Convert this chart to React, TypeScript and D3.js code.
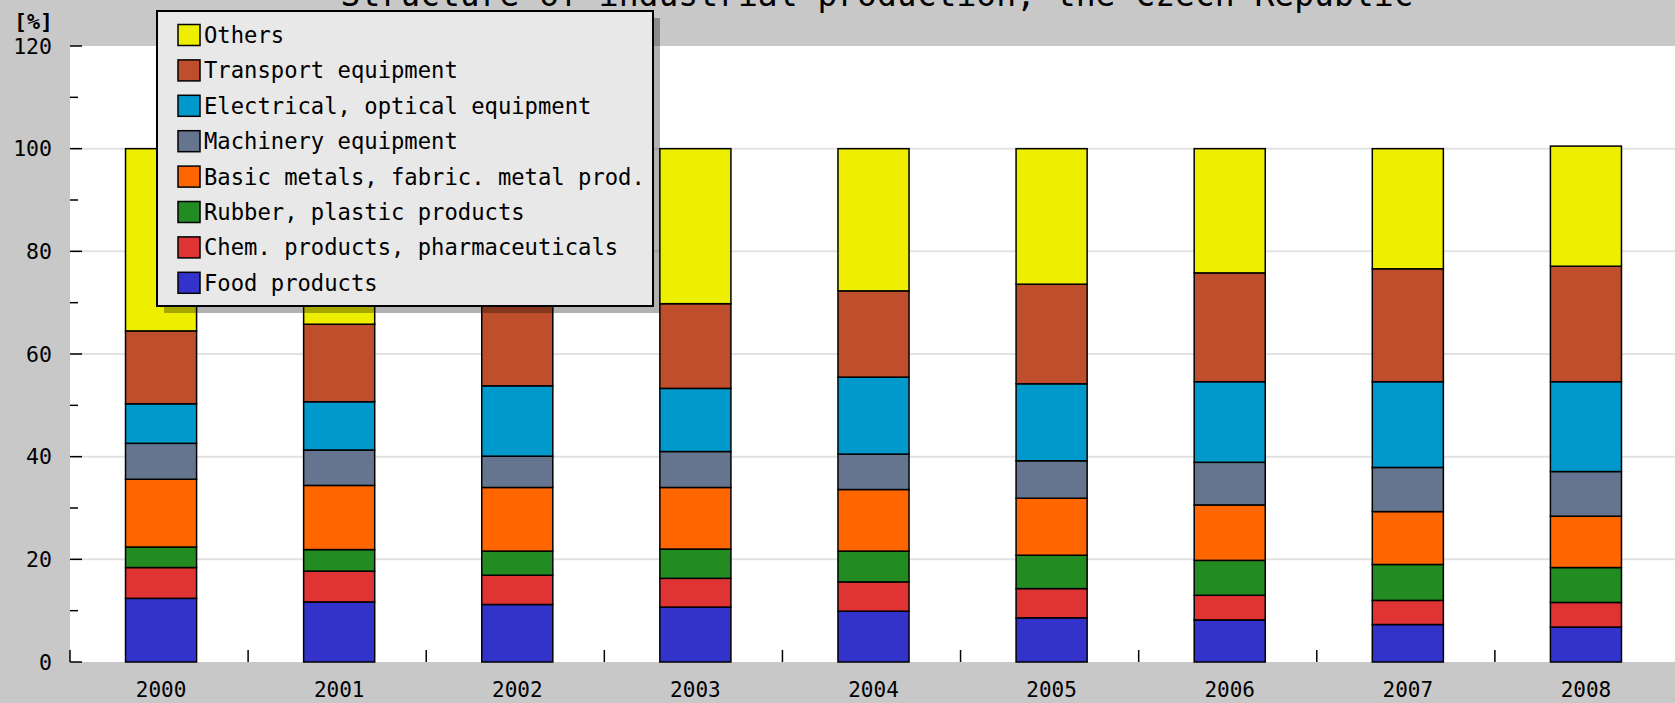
import React from "react";
import * as d3 from "d3";

const years = ["2000", "2001", "2002", "2003", "2004", "2005", "2006", "2007", "2008"];
const seriesNames = [
  "Food products",
  "Chem. products, pharmaceuticals",
  "Rubber, plastic products",
  "Basic metals, fabric. metal prod.",
  "Machinery equipment",
  "Electrical, optical equipment",
  "Transport equipment",
  "Others",
];
const seriesColors = ["#3333cc", "#e03333", "#228b22", "#ff6600", "#66758f", "#0099cc", "#bf4f2c", "#eeee00"];

const food = [12.4, 11.7, 11.2, 10.7, 9.9, 8.6, 8.2, 7.3, 6.8];
const chem = [6.0, 6.0, 5.7, 5.6, 5.7, 5.7, 4.8, 4.7, 4.8];
const rubber = [4.0, 4.2, 4.7, 5.7, 6.0, 6.5, 6.8, 7.0, 6.8];
const basicMetals = [13.2, 12.5, 12.4, 12.0, 12.0, 11.1, 10.8, 10.3, 10.0];
const machinery = [7.0, 6.9, 6.1, 7.0, 6.9, 7.3, 8.3, 8.6, 8.7];
const electrical = [7.7, 9.4, 13.7, 12.3, 15.0, 15.0, 15.7, 16.7, 17.5];
const transport = [14.2, 15.1, 16.2, 16.5, 16.8, 19.4, 21.2, 22.0, 22.5];
const others = [35.5, 34.2, 30.0, 30.2, 27.7, 26.4, 24.2, 23.4, 23.4];

const yTicks = [0, 20, 40, 60, 80, 100, 120];
const yMinorTicks = [10, 30, 50, 70, 90, 110];
const title = "Structure of industrial production, the Czech Republic";
const yUnit = "[%]";

const W = 1675;
const H = 703;
const FONT = "'DejaVu Sans Mono', monospace";

export default function App() {
  const seriesData = [food, chem, rubber, basicMetals, machinery, electrical, transport, others];
  const rows = years.map((y, i) => {
    const r: any = { year: y };
    seriesNames.forEach((n, s) => (r[n] = seriesData[s][i]));
    return r;
  });
  const stacked = d3.stack<any>().keys(seriesNames)(rows);

  const plotLeft = 72;
  const plotRight = 1675;
  const plotTop = 46;
  const plotBottom = 662;

  const x = d3.scaleBand<string>().domain(years).range([plotLeft, plotRight]).paddingInner(0.601).paddingOuter(0.3005);
  const y = d3.scaleLinear().domain([0, 120]).range([plotBottom, plotTop]);
  const step = x.step();

  const legendX = 157;
  const legendY = 11;
  const legendW = 496;
  const legendH = 295;
  const legendRowH = 35.4;

  return (
    <div style={{ position: "absolute", left: 0, top: 0 }}>
      <svg width={W} height={H} style={{ display: "block" }}>
        <rect x={0} y={0} width={W} height={H} fill="#c8c8c8" />
        <rect x={plotLeft - 2} y={plotTop} width={plotRight - plotLeft + 2} height={plotBottom - plotTop} fill="#ffffff" />
        {/* grid */}
        {yTicks.filter((t) => t > 0 && t < 120).map((t) => (
          <line key={"g" + t} x1={plotLeft} x2={plotRight} y1={y(t)} y2={y(t)} stroke="#e2e2e2" strokeWidth={2} />
        ))}
        {/* y ticks */}
        {yTicks.map((t) => (
          <line key={"t" + t} x1={plotLeft - 2} x2={plotLeft + 10} y1={y(t)} y2={y(t)} stroke="#000" strokeWidth={1.5} />
        ))}
        {yMinorTicks.map((t) => (
          <line key={"m" + t} x1={plotLeft - 2} x2={plotLeft + 6} y1={y(t)} y2={y(t)} stroke="#000" strokeWidth={1.5} />
        ))}
        {/* x ticks at category boundaries */}
        {years.map((yr, i) => (
          <line key={"xt" + yr} x1={plotLeft - 2 + i * step} x2={plotLeft - 2 + i * step} y1={plotBottom} y2={plotBottom - 12} stroke="#000" strokeWidth={1.5} />
        ))}
        {/* y labels */}
        {yTicks.map((t) => (
          <text key={"yl" + t} x={52} y={y(t)} dy="0.36em" textAnchor="end" fontFamily={FONT} fontSize={21.5} fill="#000">
            {t}
          </text>
        ))}
        <text x={14} y={29} fontFamily={FONT} fontSize={21.5} fontWeight="bold" fill="#000">
          {yUnit}
        </text>
        {/* bars */}
        {stacked.map((layer, s) => (
          <g key={"s" + s}>
            {layer.map((d, i) => (
              <rect
                key={i}
                x={x(years[i])!}
                y={y(d[1])}
                width={x.bandwidth()}
                height={y(d[0]) - y(d[1])}
                fill={seriesColors[s]}
                stroke="#000"
                strokeWidth={1.5}
              />
            ))}
          </g>
        ))}
        {/* x labels */}
        {years.map((yr) => (
          <text key={"xl" + yr} x={x(yr)! + x.bandwidth() / 2} y={689} dy="0.36em" textAnchor="middle" fontFamily={FONT} fontSize={21} fill="#000">
            {yr}
          </text>
        ))}
        {/* title */}
        <text x={877} y={6} textAnchor="middle" fontFamily={FONT} fontSize={33} fill="#000">
          {title}
        </text>
        {/* legend */}
        <rect x={legendX + 7} y={legendY + 7} width={legendW} height={legendH} fill="rgba(0,0,0,0.3)" />
        <rect x={legendX} y={legendY} width={legendW} height={legendH} fill="#e8e8e8" stroke="#000" strokeWidth={2} />
        {seriesNames
          .map((n, s) => ({ n, s }))
          .reverse()
          .map(({ n, s }, k) => {
            const cy = legendY + 24 + k * legendRowH;
            return (
              <g key={"lg" + s}>
                <rect x={178} y={cy - 10.5} width={22} height={21} fill={seriesColors[s]} stroke="#000" strokeWidth={1.5} />
                <text x={204} y={cy} dy="0.36em" fontFamily={FONT} fontSize={22.2} fill="#000">
                  {n}
                </text>
              </g>
            );
          })}
      </svg>
    </div>
  );
}
